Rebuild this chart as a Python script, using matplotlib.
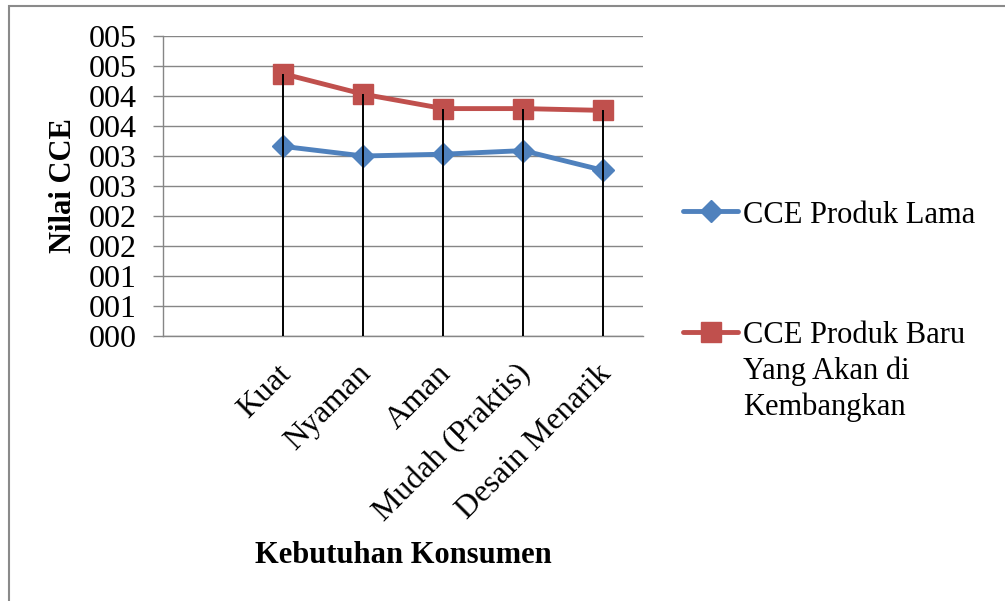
import numpy as np
import matplotlib
matplotlib.use("Agg")
import matplotlib.pyplot as plt
from matplotlib.lines import Line2D
from matplotlib.patches import Rectangle
from matplotlib.transforms import ScaledTranslation

# ---- data ----
categories = ["", "Kuat", "Nyaman", "Aman", "Mudah (Praktis)", "Desain Menarik"]
cce_lama = [np.nan, 3.16, 3.00, 3.03, 3.09, 2.76]
cce_baru = [np.nan, 4.37, 4.03, 3.79, 3.79, 3.76]
y_ticks = [0, 0.5, 1, 1.5, 2, 2.5, 3, 3.5, 4, 4.5, 5]
y_tick_labels = ["000", "001", "001", "002", "002", "003", "003", "004", "004", "005", "005"]
series_names = ["CCE Produk Lama", "CCE Produk Baru\nYang Akan di\nKembangkan"]
x_title = "Kebutuhan Konsumen"
y_title = "Nilai CCE"

W, H = 1005, 601
BLUE = "#4F81BD"
RED = "#C0504D"
GRID = "#868686"
FS = 22

plt.rcParams["font.family"] = ["Liberation Serif", "DejaVu Serif"]

fig = plt.figure(figsize=(W / 100, H / 100), dpi=100)

def fx(px):
    return px / W

def fy(py):
    return 1 - py / H

# border
fig.add_artist(Rectangle((fx(9), fy(640)), fx(1100), (640 - 6) / H,
                         transform=fig.transFigure, fill=False,
                         edgecolor="#8a8a8a", linewidth=1.5))

ax = fig.add_axes([fx(163.3), fy(336), 480 / W, 300 / H])
x = np.arange(len(categories))

ax.plot(x, cce_lama, color=BLUE, lw=3.5, marker="D", ms=11.5, zorder=3,
        solid_capstyle="round", solid_joinstyle="round")
ax.plot(x, cce_baru, color=RED, lw=3.5, marker="s", ms=14, zorder=3,
        solid_capstyle="round", solid_joinstyle="round")

tops = np.fmax(np.array(cce_lama), np.array(cce_baru))
valid = ~np.isnan(tops)
ax.vlines(x[valid], 0, tops[valid], color="black", lw=1.4, zorder=4)

ax.set_xlim(-0.5, len(categories) - 0.5)
ax.set_ylim(0, 5)
ax.set_yticks(y_ticks)
ax.set_yticklabels(y_tick_labels, fontsize=23)
ax.set_xticks(x)
ax.set_xticklabels([""] * len(categories))
ax.tick_params(axis="x", length=0)
ax.tick_params(axis="y", length=7.2, width=1, color=GRID, pad=12, direction="out")

# rotated category labels, anchored at their upper-right end
lab_tr = ax.get_xaxis_transform() + ScaledTranslation(-7 / 100, -23 / 100, fig.dpi_scale_trans)
for xi, cat in zip(x, categories):
    if cat:
        ax.text(xi, 0, cat, transform=lab_tr, fontsize=23, rotation=45,
                ha="right", va="top", rotation_mode="anchor")

ax.grid(axis="y", color=GRID, lw=1.0)
ax.set_axisbelow(True)
for s in ["top", "right"]:
    ax.spines[s].set_visible(False)
for s in ["left", "bottom"]:
    ax.spines[s].set_color(GRID)
    ax.spines[s].set_linewidth(1.0)

ax.set_xlabel(x_title, fontsize=FS, fontweight="bold", va="center")
ax.xaxis.set_label_coords(0.5, (336 - 556) / 300)
ax.set_ylabel(y_title, fontsize=FS, fontweight="bold", va="center")
ax.yaxis.set_label_coords((63 - 163.3) / 480, 0.5)

# manual legend
leg_items = [
    (series_names[0], BLUE, "D", 11.5, 211, 201),
    (series_names[1], RED, "s", 14, 331.5, 321),
]
for name, col, mk, ms, yh, yt in leg_items:
    fig.add_artist(Line2D([fx(683), fx(738)], [fy(yh), fy(yh)],
                          transform=fig.transFigure, color=col, lw=3.5,
                          solid_capstyle="round"))
    fig.add_artist(Line2D([fx(710.5)], [fy(yh)], transform=fig.transFigure,
                          color=col, marker=mk, ms=ms, lw=0))
    fig.text(fx(743), fy(yt), name, fontsize=FS, ha="left", va="top",
             linespacing=1.3)

fig.savefig("out.png", dpi=100)
